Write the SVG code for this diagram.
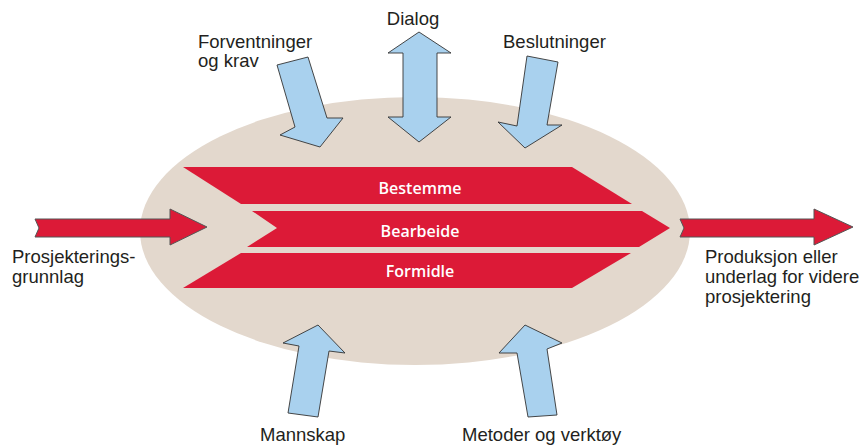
<svg xmlns="http://www.w3.org/2000/svg" width="866" height="445" viewBox="0 0 866 445">
<style>
.lbl{font-family:"Liberation Sans",Arial,sans-serif;font-size:18.5px;fill:#231f20}
.in{font-family:"Open Sans","Liberation Sans",sans-serif;font-size:16px;font-weight:600;fill:#fff;text-anchor:middle}
.red{fill:#dc1a37}
.redarrow{fill:#dc1a37;stroke:#555;stroke-width:1}
.blue{fill:#a9d1ee;stroke:#333;stroke-width:0.9;stroke-linejoin:miter}
</style>
<rect width="866" height="445" fill="#fff"/>
<g id="process">
<ellipse cx="415" cy="231" rx="275" ry="134" fill="#e3d8cd"/>
</g>
<g id="bestemme">
<polygon class="red" points="183,167 572,167 632,204 241,204"/>
<text class="in" x="420" y="194">Bestemme</text>
</g>
<g id="bearbeide">
<polygon class="red" points="252,211 642,211 670,228 639,247 247,247 277,228"/>
<text class="in" x="420" y="237">Bearbeide</text>
</g>
<g id="formidle">
<polygon class="red" points="241,253 631,253 572,288 183,288"/>
<text class="in" x="420" y="277">Formidle</text>
</g>
<g id="connectors">
<polygon class="redarrow" points="35,219 170,219 170,209 207,227 170,245 170,237 35,237 39,228"/>
<polygon class="redarrow" points="680,219 814,219 814,209 853,227 814,245 814,237 680,237 684,228"/>
<polygon class="blue" points="419,32 451,53 437,53 437,117 451,117 419,142 388,117 403,117 403,53 388,53"/>
<polygon class="blue" points="277,65 308,57 327,118 343,118 320,147 280,135 295,127"/>
<polygon class="blue" points="527,56 558,62 547,125 562,125 525,148 498,122 517,126"/>
<polygon class="blue" points="318,325 345,353 329,351 318,417 288,413 299,346 283,343"/>
<polygon class="blue" points="525,325 562,343 547,349 557,415 528,417 517,353 499,353"/>
</g>
<g id="grunnlag">
<text class="lbl" x="12" y="263">Prosjekterings-</text>
<text class="lbl" x="12" y="283">grunnlag</text>
</g>
<g id="produksjon">
<text class="lbl" x="705" y="263">Produksjon eller</text>
<text class="lbl" x="705" y="283">underlag for videre</text>
<text class="lbl" x="705" y="303">prosjektering</text>
</g>
<g id="dialog"><text class="lbl" x="413" y="25" text-anchor="middle">Dialog</text></g>
<g id="forventninger">
<text class="lbl" x="198" y="48">Forventninger</text>
<text class="lbl" x="198" y="67">og krav</text>
</g>
<g id="beslutninger"><text class="lbl" x="503" y="48">Beslutninger</text></g>
<g id="mannskap"><text class="lbl" x="260" y="441">Mannskap</text></g>
<g id="metoder"><text class="lbl" x="462" y="441">Metoder og verktøy</text></g>
</svg>
